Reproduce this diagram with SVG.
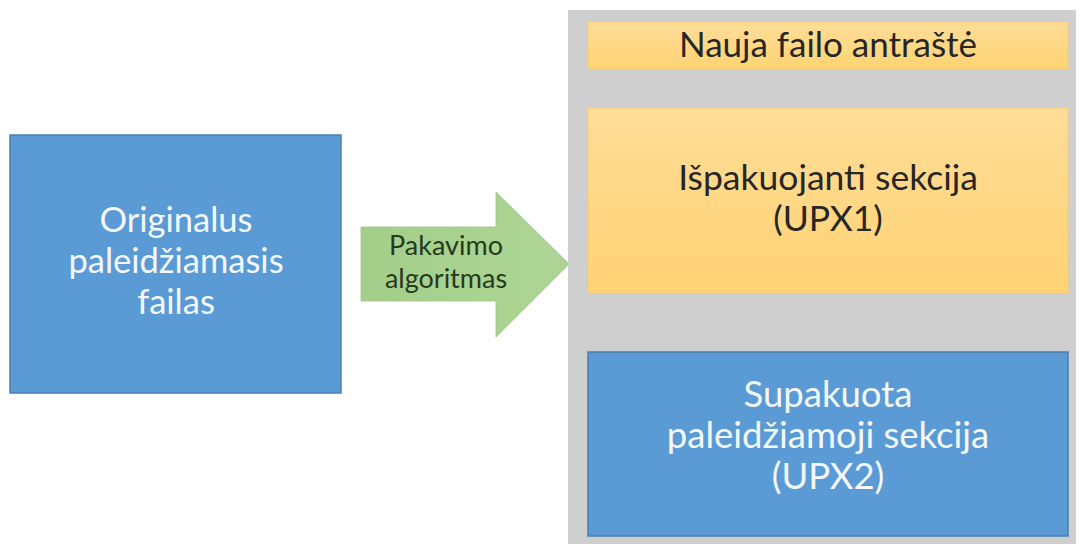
<svg xmlns="http://www.w3.org/2000/svg" width="1083" height="545" viewBox="0 0 1083 545">
<defs>
<linearGradient id="gold" x1="0" y1="0" x2="0" y2="1">
<stop offset="0" stop-color="#FFDD98"/>
<stop offset="1" stop-color="#FFD374"/>
</linearGradient>
<linearGradient id="green" x1="0" y1="0" x2="1" y2="0">
<stop offset="0" stop-color="#A3CF8A"/>
<stop offset="1" stop-color="#AED595"/>
</linearGradient>
<style>
.blue{fill:#5B9BD5;stroke:#4A7FB0;stroke-width:1.5}
.gold{fill:url(#gold);stroke:#F5CC70;stroke-width:1}
.t{font-family:Lato,"Open Sans","Liberation Sans",sans-serif;text-anchor:middle}
.w{fill:#F4F8FC}
.d{fill:#262626}
.g{fill:#263A1E}
</style>
</defs>
<rect width="1083" height="545" fill="#FFFFFF"/>
<g id="container">
<rect x="568" y="10" width="508" height="534" fill="#CFCFCF"/>
</g>
<g id="original">
<rect class="blue" x="10" y="135" width="331" height="258"/>
<text class="t w" font-size="34.5"><tspan x="176" y="232">Originalus</tspan><tspan x="176" y="273">paleidžiamasis</tspan><tspan x="176" y="314">failas</tspan></text>
</g>
<g id="connectors">
<g id="arrow">
<polygon points="361,227 496,227 496,192 569,264 496,337 496,301 361,301" fill="url(#green)" stroke="#9BC483" stroke-width="0.8"/>
<text class="t g" font-size="27"><tspan x="446" y="255">Pakavimo</tspan><tspan x="446" y="288">algoritmas</tspan></text>
</g>
</g>
<g id="header">
<rect class="gold" x="588" y="22" width="480" height="47"/>
<text class="t d" x="828" y="57" font-size="35">Nauja failo antraštė</text>
</g>
<g id="upx1">
<rect class="gold" x="588" y="108" width="480" height="185"/>
<text class="t d" font-size="35.5"><tspan x="828" y="190">Išpakuojanti sekcija</tspan><tspan x="828" y="231">(UPX1)</tspan></text>
</g>
<g id="upx2">
<rect class="blue" x="588" y="352" width="480" height="184"/>
<text class="t w" font-size="36.5"><tspan x="828" y="407">Supakuota</tspan><tspan x="828" y="448">paleidžiamoji sekcija</tspan><tspan x="828" y="489">(UPX2)</tspan></text>
</g>
</svg>
